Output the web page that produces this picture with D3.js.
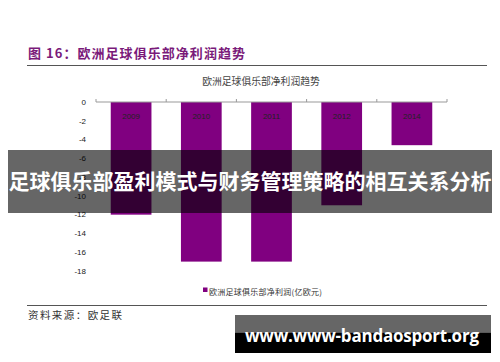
<!DOCTYPE html>
<html>
<head>
<meta charset="utf-8">
<script src="https://cdn.jsdelivr.net/npm/d3@7"></script>
<style>
body { margin: 0; background: #fff; }
svg { display: block; }
</style>
</head>
<body>
<svg id="chart" width="500" height="362"></svg>
<script>
var years = ['2009', '2010', '2011', '2012', '2014'];//categories
var profits = [-12, -17, -17, -11, -4.6];//net profit, 100m euro
var yTicks = [0, -2, -4, -6, -8, -10, -12, -14, -16, -18];

var cjk = "'Noto Sans CJK SC', sans-serif";
var svg = d3.select("#chart");

//figure header
svg.append("text")
.attr("x", 28)
.attr("y", 58)
.attr("font-family", cjk)
.attr("font-size", 13)
.attr("font-weight", "bold")
.attr("fill", "#7a1a7a")
.attr("textLength", 217)
.text("图  16：欧洲足球俱乐部净利润趋势");

svg.append("line")
.attr("x1", 27).attr("x2", 487)
.attr("y1", 65.5).attr("y2", 65.5)
.attr("stroke", "#555")
.attr("stroke-width", 1);

//chart title
svg.append("text")
.attr("x", 261)
.attr("y", 85)
.attr("text-anchor", "middle")
.attr("font-family", cjk)
.attr("font-size", 9.8)
.attr("fill", "#444")
.text("欧洲足球俱乐部净利润趋势");

var x = d3.scaleBand()
.domain(years)
.range([96, 447])
.paddingInner(0.42)
.paddingOuter(0.21);

var y = d3.scaleLinear()
.domain([0, -18])
.range([102, 271]);

//bars
svg.append("g")
.selectAll("rect")
.data(years)
.enter().append("rect")
.attr("x", function(d) { return x(d); })
.attr("width", x.bandwidth())
.attr("y", y(0))
.attr("height", function(d, i) { return y(profits[i]) - y(0); })
.attr("fill", "#800080");

//year labels inside bars
svg.append("g")
.selectAll("text")
.data(years)
.enter().append("text")
.attr("x", function(d) { return x(d) + x.bandwidth() / 2; })
.attr("y", 119)
.attr("text-anchor", "middle")
.attr("font-family", "Arial, 'Liberation Sans', sans-serif")
.attr("font-size", 8)
.attr("fill", "#222")
.text(function(d) { return d; });

//zero axis with category separators
var step = x.step();
var xAxis = svg.append("g").attr("transform", "translate(0," + y(0) + ")");
xAxis.append("line")
.attr("x1", 96).attr("x2", 447)
.attr("stroke", "#999");
xAxis.selectAll(".sep")
.data(d3.range(years.length + 1))
.enter().append("line")
.attr("class", "sep")
.attr("x1", function(i) { return 96 + i * step; })
.attr("x2", function(i) { return 96 + i * step; })
.attr("y1", 0).attr("y2", -3)
.attr("stroke", "#999");

//y labels
svg.append("g")
.selectAll("text")
.data(yTicks)
.enter().append("text")
.attr("x", 86)
.attr("y", function(d) { return y(d); })
.attr("dy", "0.35em")
.attr("text-anchor", "end")
.attr("font-family", "Arial, 'Liberation Sans', sans-serif")
.attr("font-size", 8)
.attr("fill", "#222")
.text(function(d) { return d; });

//legend
svg.append("rect")
.attr("x", 203).attr("y", 287.5)
.attr("width", 4.5).attr("height", 4.5)
.attr("fill", "#800080");
svg.append("text")
.attr("x", 209)
.attr("y", 295)
.attr("font-family", cjk)
.attr("font-size", 8)
.attr("fill", "#333")
.attr("textLength", 113)
.text("欧洲足球俱乐部净利润(亿欧元)");

svg.append("line")
.attr("x1", 27).attr("x2", 487)
.attr("y1", 305.5).attr("y2", 305.5)
.attr("stroke", "#555")
.attr("stroke-width", 1);

svg.append("text")
.attr("x", 28)
.attr("y", 319)
.attr("font-family", cjk)
.attr("font-size", 10.5)
.attr("fill", "#333")
.attr("textLength", 94)
.text("资料来源：欧足联");

//overlay banner
svg.append("rect")
.attr("x", 8).attr("y", 150)
.attr("width", 484).attr("height", 63)
.attr("fill", "rgba(0,0,0,0.6)");
svg.append("text")
.attr("x", 250)
.attr("y", 189)
.attr("text-anchor", "middle")
.attr("font-family", cjk)
.attr("font-size", 21)
.attr("font-weight", "bold")
.attr("fill", "#fff")
.text("足球俱乐部盈利模式与财务管理策略的相互关系分析");

//watermark
svg.append("rect")
.attr("x", 235).attr("y", 315)
.attr("width", 256).attr("height", 17.5)
.attr("fill", "#666");
svg.append("rect")
.attr("x", 235).attr("y", 332.5)
.attr("width", 256).attr("height", 20.5)
.attr("fill", "#000");
svg.append("text")
.attr("x", 245)
.attr("y", 341.5)
.attr("font-family", "'Open Sans', 'DejaVu Sans', sans-serif")
.attr("font-size", 17)
.attr("font-weight", "bold")
.attr("textLength", 234)
.attr("fill", "#fff")
.text("www.www-bandaosport.org");
</script>
</body>
</html>
